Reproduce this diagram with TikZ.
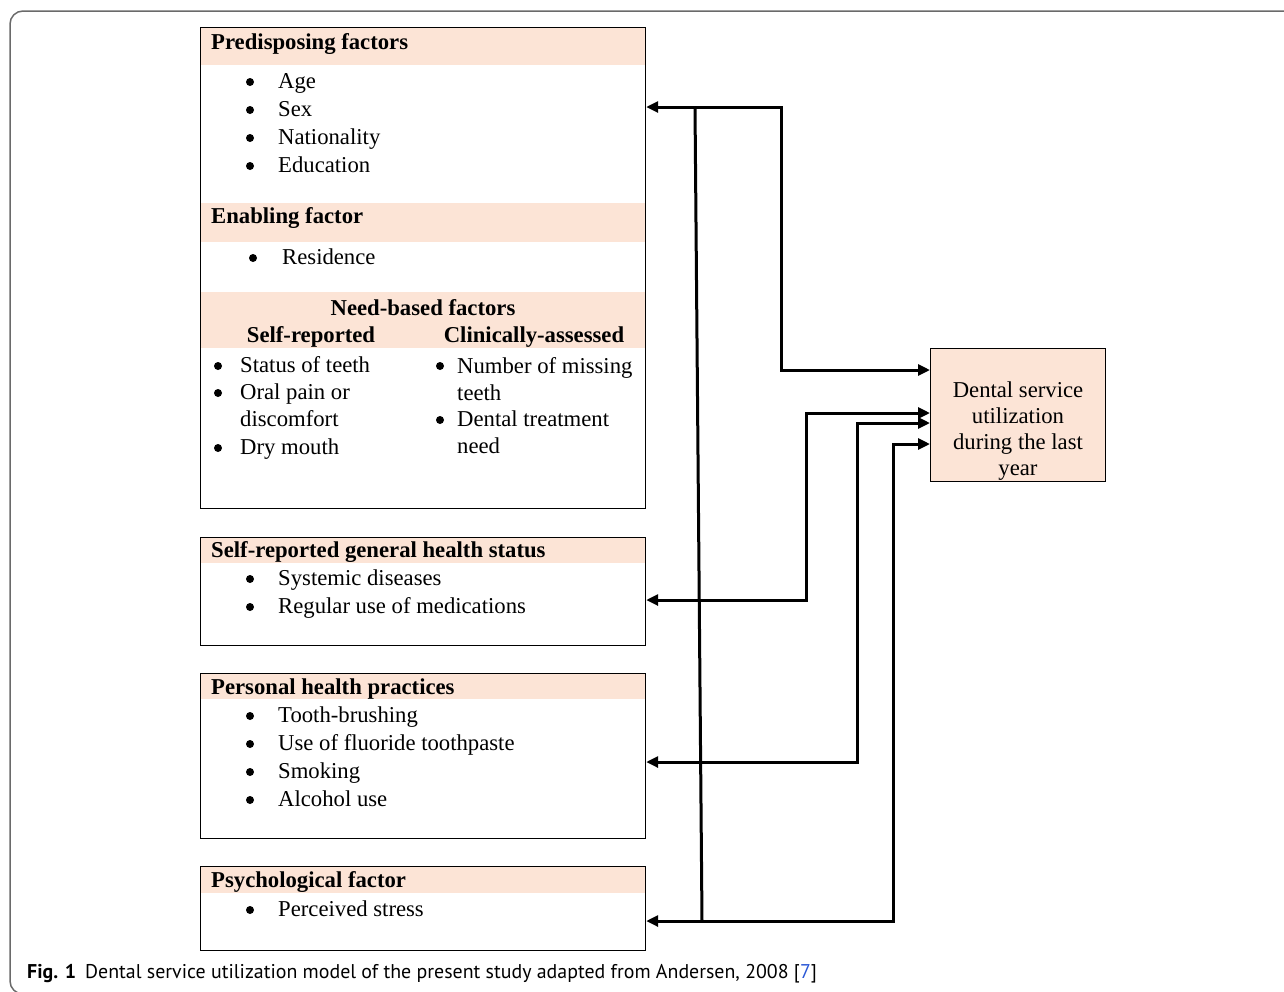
\documentclass[tikz,border=0pt]{standalone}
\usepackage{fontspec}
\setmainfont{Liberation Serif}
\newfontfamily\capfont{PT Sans}
\usetikzlibrary{positioning,arrows.meta}
\definecolor{peach}{HTML}{FCE4D6}
\definecolor{framegray}{HTML}{6A6A6A}
\definecolor{citeblue}{HTML}{2A57D6}
\newcommand{\boxfont}{\fontsize{22.7}{27}\selectfont}

\tikzset{
  box/.style={draw,line width=1.2pt,anchor=north west,inner sep=0,minimum width=445pt},
  band/.style={fill=peach,anchor=north west,inner sep=0,minimum width=444pt},
  head/.style={anchor=base west,inner sep=0,font=\boxfont\bfseries},
  item/.style={anchor=base west,inner sep=0,align=left,font=\boxfont},
  dot/.style={circle,fill,inner sep=0,minimum size=8pt},
  link/.style={line width=3pt,{Triangle[length=12pt,width=11pt]}-{Triangle[length=12pt,width=11pt]}},
  plain/.style={line width=3pt}
}

\begin{document}
\begin{tikzpicture}[x=1pt,y=-1pt]
	\useasboundingbox (0,0) rectangle (1284,991);
	\begin{scope}
		\clip (0,0) rectangle (1284,991);
		\draw[framegray,line width=1.5pt,rounded corners=13pt] (10,11) rectangle (1320,994);
	\end{scope}

	% header bands
	\node(predband) [band,minimum height=37pt] at (200.6,27.6) {};
	\node(enabband) [band,minimum height=39pt] at (200.6,203) {};
	\node(needband) [band,minimum height=56pt] at (200.6,292) {};
	\node(ghsband) [band,minimum height=25.5pt] at (200.6,537.6) {};
	\node(phpband) [band,minimum height=25.5pt] at (200.6,673.6) {};
	\node(psyband) [band,minimum height=26.5pt] at (200.6,866.6) {};

	% boxes
	\node(pred) [box,minimum height=481pt] at (200,27) {};
	\node(ghs) [box,minimum height=108pt] at (200,537) {};
	\node(php) [box,minimum height=165pt] at (200,673) {};
	\node(psy) [box,minimum height=84pt] at (200,866) {};
	\node(dsu) [draw,fill=peach,line width=1.2pt,anchor=north west,inner sep=0,
		minimum width=175pt,minimum height=133pt] at (930,348) {};
	\node(dsutext) [anchor=north,align=center,inner sep=0,font=\fontsize{22.7}{26}\selectfont]
		at (1018,381.5) {Dental service\\utilization\\during the last\\year};

	% predisposing
	\node(predhead) [head] at (211,49) {Predisposing factors};
	\node [dot] at (250,82) {};
	\node [dot] at (250,110) {};
	\node [dot] at (250,138) {};
	\node [dot] at (250,166) {};
	\node(age) [item] at (278,88) {Age};
	\node(sex) [item] at (278,116) {Sex};
	\node(nat) [item] at (278,144) {Nationality};
	\node(edu) [item] at (278,172) {Education};

	% enabling
	\node(enabhead) [head] at (211,223) {Enabling factor};
	\node [dot] at (253,258) {};
	\node(res) [item] at (282,264) {Residence};

	% need-based
	\node(needhead) [head,anchor=base] at (423,315) {Need-based factors};
	\node(selfhead) [head,anchor=base] at (311,342) {Self-reported};
	\node(clinhead) [head,anchor=base] at (534,342) {Clinically-assessed};
	\node [dot] at (218,366) {};
	\node [dot] at (218,393) {};
	\node [dot] at (218,448) {};
	\node(status) [item] at (240,372) {Status of teeth};
	\node(pain) [item,anchor=north west] at (240,384) {Oral pain or\\discomfort};
	\node(dry) [item] at (240,454) {Dry mouth};
	\node [dot] at (440,366) {};
	\node [dot] at (440,420) {};
	\node(missing) [item,anchor=north west] at (457,357) {Number of missing\\teeth};
	\node(treat) [item,anchor=north west] at (457,411) {Dental treatment\\need};

	% general health
	\node(ghshead) [head] at (211,557) {Self-reported general health status};
	\node [dot] at (250,579) {};
	\node [dot] at (250,607) {};
	\node(sys) [item] at (278,585) {Systemic diseases};
	\node(med) [item] at (278,613) {Regular use of medications};

	% health practices
	\node(phphead) [head] at (211,694) {Personal health practices};
	\node [dot] at (250,716) {};
	\node [dot] at (250,744) {};
	\node [dot] at (250,772) {};
	\node [dot] at (250,800) {};
	\node(brush) [item] at (278,722) {Tooth-brushing};
	\node(fluor) [item] at (278,750) {Use of fluoride toothpaste};
	\node(smoke) [item] at (278,778) {Smoking};
	\node(alc) [item] at (278,806) {Alcohol use};

	% psychological
	\node(psyhead) [head] at (211,887) {Psychological factor};
	\node [dot] at (250,910) {};
	\node(stress) [item] at (278,916) {Perceived stress};

	% connectors
	\draw[link] (pred.east |- 0,107) -| (781,370) -- (dsu.west |- 0,370);
	\draw[link] (ghs.east |- 0,600) -| (806,413) -- (dsu.west |- 0,413);
	\draw[link] (php.east |- 0,762) -| (857,423) -- (dsu.west |- 0,423);
	\draw[link] (psy.east |- 0,921) -| (893,444) -- (dsu.west |- 0,444);
	\coordinate (vtop) at (695,107);
	\coordinate (vbot) at (702,921);
	\draw[plain] (vtop) -- (vbot);

	% caption
	\node(caption) [anchor=base west,inner sep=0,font=\capfont\fontsize{19.9}{22}\selectfont]
		at (27,978) {\textbf{Fig. 1}\hspace{9pt}Dental service utilization model of the present study adapted from Andersen, 2008 [\textcolor{citeblue}{7}]};
\end{tikzpicture}
\end{document}
